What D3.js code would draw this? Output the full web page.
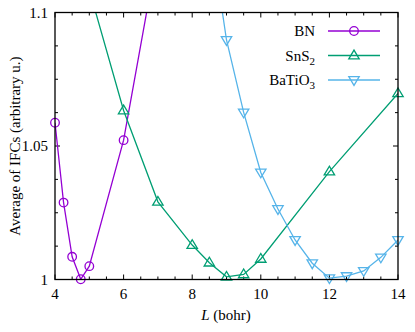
<!DOCTYPE html>
<html>
<head>
<meta charset="utf-8">
<script src="https://cdn.jsdelivr.net/npm/d3@7"></script>
<style>
  body { margin: 0; background: #fff; }
</style>
</head>
<body>
<div id="chart"></div>
<script>
// data
var bnL = [4, 4.25, 4.5, 4.75, 5, 6, 7]
var bnY = [1.0587, 1.0288, 1.0085, 1.0001, 1.005, 1.0522, 1.1235]
var snsL = [5, 6, 7, 8, 8.5, 9, 9.5, 10, 12, 14]
var snsY = [1.1085, 1.0633, 1.0291, 1.0129, 1.0063, 1.001, 1.0019, 1.0077, 1.0404, 1.0697]
var btoL = [8.5, 9, 9.5, 10, 10.5, 11, 11.5, 12, 12.5, 13, 13.5, 14]
var btoY = [1.133, 1.0897, 1.0626, 1.0401, 1.0264, 1.0148, 1.0061, 1.0005, 1.0013, 1.0032, 1.0083, 1.0148]
var xTicks = [4, 6, 8, 10, 12, 14]
var yTicks = [1, 1.05, 1.1]

var W = 415, H = 332
var m = {l: 55, r: 17, t: 12.5, b: 52.5}
var FONT = "Liberation Serif"

var svg = d3.select("#chart").append("svg").attr("width", W).attr("height", H)

var x = d3.scaleLinear().domain([4, 14]).range([m.l, W - m.r])
var y = d3.scaleLinear().domain([1, 1.1]).range([H - m.b, m.t])

svg.append("clipPath").attr("id", "clip").append("rect")
  .attr("x", m.l).attr("y", m.t).attr("width", W - m.r - m.l).attr("height", H - m.b - m.t)

// ticks (inward, mirrored)
var g_ticks = svg.append("g").attr("stroke", "#000").attr("stroke-width", 1)
d3.range(4, 14.01, 0.5).forEach(function(v) {
  var len = (v % 2 == 0) ? 5 : 3
  g_ticks.append("line").attr("x1", x(v)).attr("x2", x(v)).attr("y1", y(1)).attr("y2", y(1) - len)
  g_ticks.append("line").attr("x1", x(v)).attr("x2", x(v)).attr("y1", y(1.1)).attr("y2", y(1.1) + len)
})
d3.range(0, 9).forEach(function(i) {
  var v = 1 + i * 0.0125
  var len = (i % 4 == 0) ? 5 : 3
  g_ticks.append("line").attr("x1", x(4)).attr("x2", x(4) + len).attr("y1", y(v)).attr("y2", y(v))
  g_ticks.append("line").attr("x1", x(14)).attr("x2", x(14) - len).attr("y1", y(v)).attr("y2", y(v))
})

svg.selectAll(".xl").data(xTicks).enter().append("text")
  .attr("font-family", FONT)
  .attr("x", function(d) { return x(d) }).attr("y", y(1) + 19)
  .attr("text-anchor", "middle").attr("font-size", 15).text(function(d) { return d })
svg.selectAll(".yl").data(yTicks).enter().append("text")
  .attr("font-family", FONT)
  .attr("x", m.l - 7).attr("y", function(d) { return y(d) + 5 })
  .attr("text-anchor", "end").attr("font-size", 15).text(function(d) { return d })

// axis labels
var xl = svg.append("text").attr("font-family", FONT).attr("x", 226).attr("y", 320)
  .attr("text-anchor", "middle").attr("font-size", 15)
xl.append("tspan").attr("font-style", "italic").text("L")
xl.append("tspan").text(" (bohr)")
svg.append("text").attr("font-family", FONT)
  .attr("transform", "translate(20," + ((m.t + H - m.b) / 2) + ")rotate(-90)")
  .attr("text-anchor", "middle").attr("font-size", 15).text("Average of IFCs (arbitrary u.)")

var series = [
  {name: "BN", sub: null, L: bnL, Y: bnY, color: "#9400d3", sym: "circle"},
  {name: "SnS", sub: "2", L: snsL, Y: snsY, color: "#009e73", sym: "up"},
  {name: "BaTiO", sub: "3", L: btoL, Y: btoY, color: "#56b4e9", sym: "down"}
]

function marker(g, sym, cx, cy, color) {
  if (sym == "circle") {
    g.append("circle").attr("cx", cx).attr("cy", cy).attr("r", 4.3)
      .attr("fill", "none").attr("stroke", color).attr("stroke-width", 1.3)
  } else {
    var s = sym == "up" ? 1 : -1
    var pts = [[cx - 5.2, cy + 3.3 * s], [cx + 5.2, cy + 3.3 * s], [cx, cy - 5.4 * s]]
    g.append("path").attr("d", "M" + pts.join("L") + "Z")
      .attr("fill", "none").attr("stroke", color).attr("stroke-width", 1.3)
  }
}

var plot = svg.append("g").attr("clip-path", "url(#clip)")
var marks = svg.append("g")
var line = d3.line().x(function(d) { return x(d[0]) }).y(function(d) { return y(d[1]) })

series.forEach(function(s) {
  var pts = d3.zip(s.L, s.Y)
  plot.append("path").attr("d", line(pts)).attr("fill", "none")
    .attr("stroke", s.color).attr("stroke-width", 1.3)
  pts.filter(function(p) { return p[1] <= 1.1 }).forEach(function(p) {
    marker(marks, s.sym, x(p[0]), y(p[1]), s.color)
  })
})

// frame
svg.append("rect").attr("x", m.l).attr("y", m.t).attr("width", W - m.r - m.l).attr("height", H - m.b - m.t)
  .attr("fill", "none").attr("stroke", "#000").attr("stroke-width", 1.3)

// legend
var leg = svg.append("g")
series.forEach(function(s, i) {
  var ly = 31 + i * 24.5
  var t = leg.append("text").attr("font-family", FONT).attr("x", 315).attr("y", ly + 5)
    .attr("text-anchor", "end").attr("font-size", 15)
  t.append("tspan").text(s.name)
  if (s.sub) t.append("tspan").attr("dy", 4).attr("font-size", 11).text(s.sub)
  leg.append("line").attr("x1", 328).attr("x2", 380).attr("y1", ly).attr("y2", ly)
    .attr("stroke", s.color).attr("stroke-width", 1.3)
  marker(leg, s.sym, 354, ly, s.color)
})
</script>
</body>
</html>
